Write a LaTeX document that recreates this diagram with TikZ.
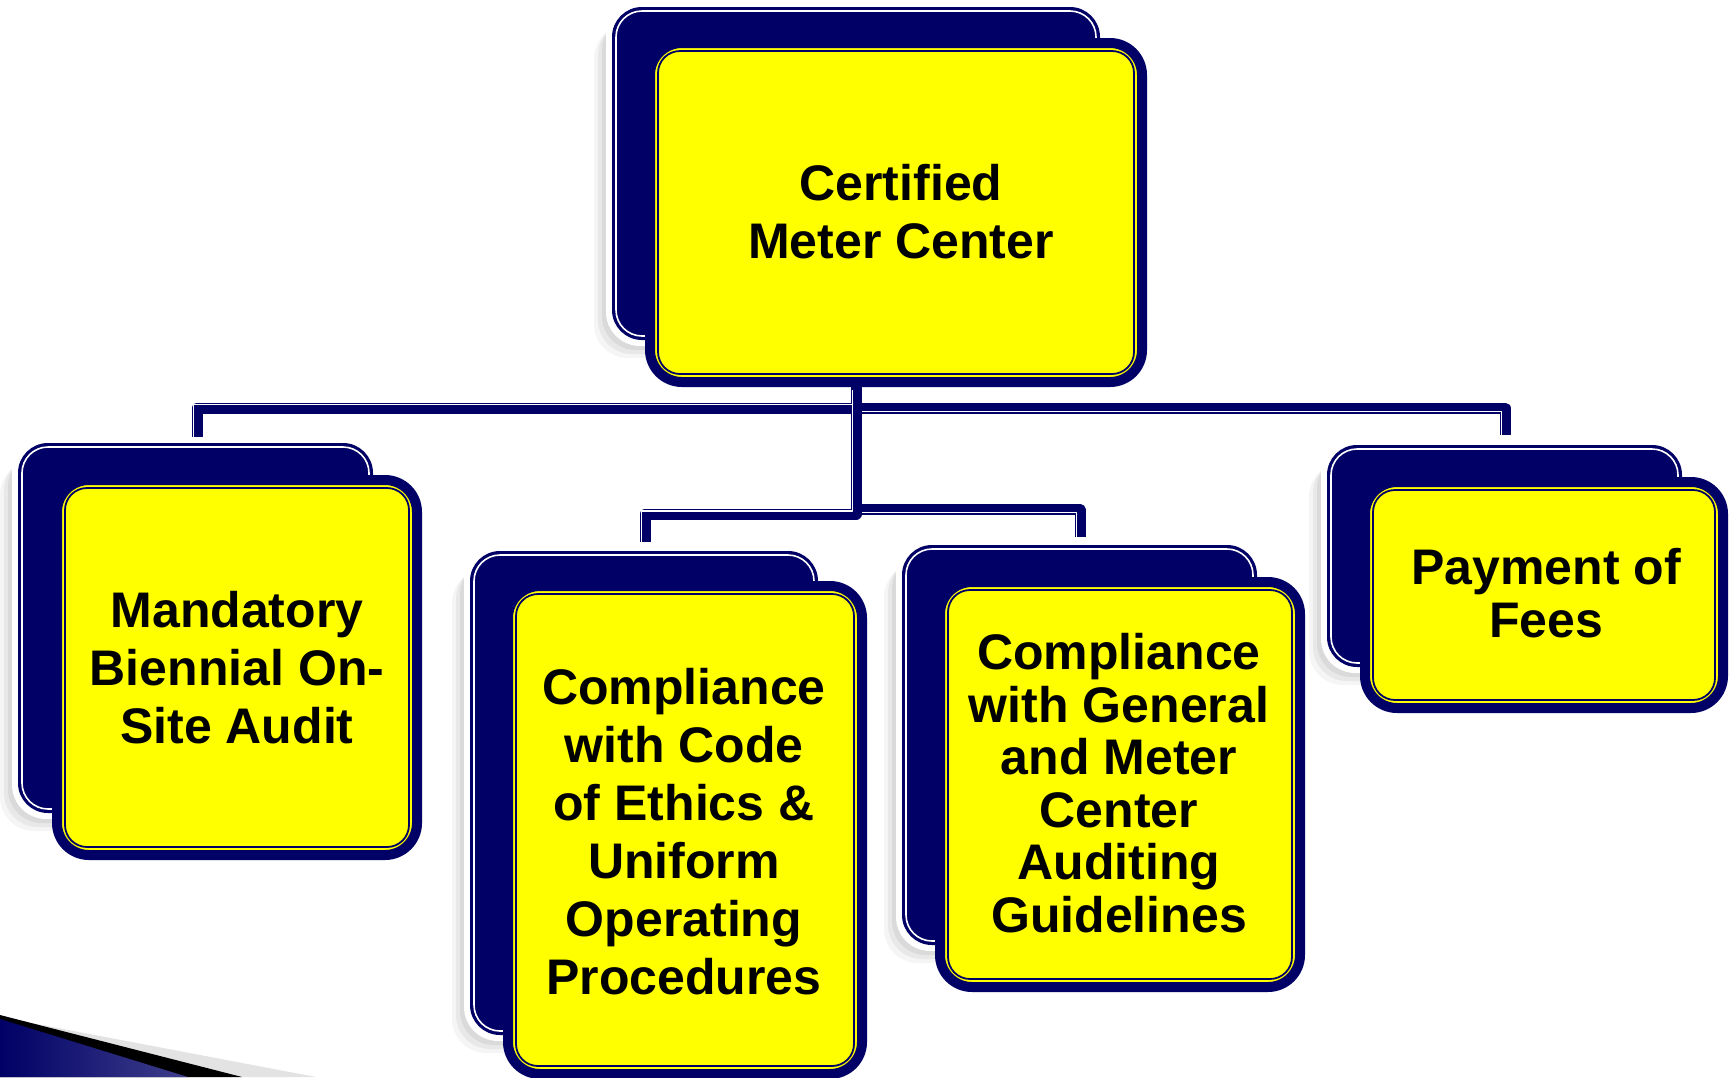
\documentclass[tikz,border=0pt]{standalone}
\usepackage{fontspec}
\setmainfont{Liberation Sans}
\definecolor{navy}{HTML}{000066}
\definecolor{ylw}{HTML}{FFFF00}
\tikzset{
  conn/.style={navy, line width=11, line join=round},
  connhl/.style={white, line width=1.6, line join=round},
  cardtxt/.style={align=center, inner sep=0, font=\bfseries\fontsize{50}{58}\selectfont},
  cardtxttight/.style={align=center, inner sep=0, font=\bfseries\fontsize{50}{52.5}\selectfont},
}
\newcommand\drawcard[9]{%
  \foreach \sh/\op in {18/0.04,14/0.05,10/0.06,6/0.07}{%
    \fill[black, opacity=\op, rounded corners=34] (#2-\sh,#3+\sh) rectangle (#4-\sh,#5+\sh);}
  \fill[white, rounded corners=34] (#2-6,#3-6) rectangle (#4+6,#5+6);
  \fill[navy, rounded corners=30] (#2,#3) rectangle (#4,#5);
  \draw[white, line width=1.6, rounded corners=26] (#2+4,#3+4) rectangle (#4-4,#5-4);
  \draw[fill=ylw, draw=navy, line width=10, rounded corners=32] (#6+5,#7+5) rectangle (#8-5,#9-5);
  \draw[navy, line width=1.8, rounded corners=22] (#6+13,#7+13) rectangle (#8-13,#9-13);
  \node[inner sep=0, minimum width={#8-#6}, minimum height={#9-#7}] (#1) at ({(#6+#8)/2},{(#7+#9)/2}) {};
}
\begin{document}
\begin{tikzpicture}[x=1pt, y=-1pt]
\useasboundingbox (0,0) rectangle (1729,1077);
\fill[white] (0,0) rectangle (1729,1077);

% corner decoration
\fill[gray!22] (0,1017) -- (316,1077) -- (0,1077) -- cycle;
\fill[black] (0,1015) -- (242,1077) -- (0,1077) -- cycle;
\shade[left color=navy, right color=navy!75!white] (0,1019) -- (188,1077) -- (0,1077) -- cycle;

% connector coordinates
\coordinate (j1) at (856,408);
\coordinate (e1) at (197,437);
\coordinate (e2) at (1505,435);
\coordinate (j2) at (856,514);
\coordinate (e3) at (645,542);
\coordinate (j3) at (856,509.5);
\coordinate (e4) at (1080,537);

% cards
\drawcard{top}{612}{7}{1100}{340}{645}{38}{1147}{387}
\drawcard{mand}{18}{443}{373}{813}{52}{475}{422}{860}
\drawcard{code}{470}{551}{818}{1035}{503}{581}{867}{1079}
\drawcard{gen}{902}{545}{1257}{945}{935}{577}{1305}{992}
\drawcard{pay}{1327}{445}{1682}{667}{1360}{477}{1728}{713}

% connectors
\draw[conn] (j1 |- top.south) -- (j1) -| (e1);
\draw[conn] (j1 |- top.south) -- (j1) -| (e2);
\draw[conn] (j1 |- top.south) -- (j2) -| (e3);
\draw[conn] (j1 |- top.south) -- (j3) -| (e4);
\draw[connhl] (862,512.5) -- (1076.5,512.5) -- (1076.5,537);
\draw[connhl] (862,411.5) -- (1501.5,411.5) -- (1501.5,435);
\draw[connhl] (852.5,404.5) -- (193.5,404.5) -- (193.5,437);
\draw[connhl] (852.5,390) -- (852.5,511) -- (641.5,511) -- (641.5,542);

% texts
\node[cardtxt] (ttop) at (901,212) {Certified\\Meter Center};
\node[cardtxt] (tmand) at (mand) {Mandatory\\Biennial On-\\Site Audit};
\node[cardtxt] (tcode) at (684,832) {Compliance\\with Code\\of Ethics \&\\Uniform\\Operating\\Procedures};
\node[cardtxttight] (tgen) at (1119,783) {Compliance\\with General\\and Meter\\Center\\Auditing\\Guidelines};
\node[cardtxttight] (tpay) at (1546,593) {Payment of\\Fees};
\end{tikzpicture}
\end{document}
